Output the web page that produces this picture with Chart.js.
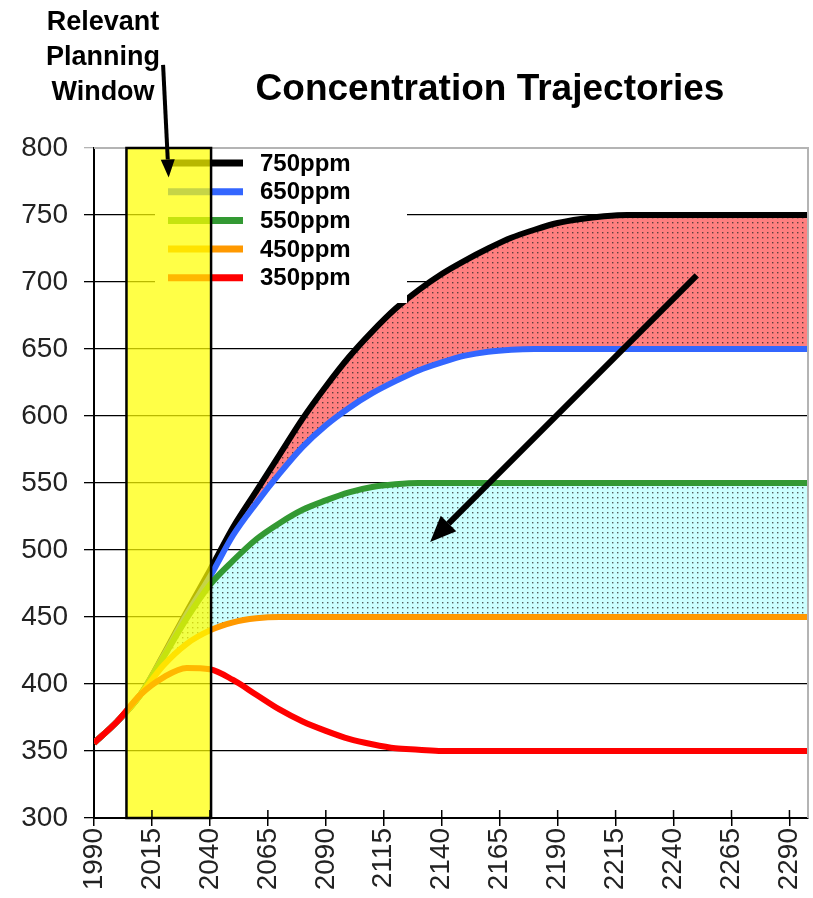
<!DOCTYPE html>
<html>
<head>
<meta charset="utf-8">
<script src="https://cdn.jsdelivr.net/npm/chart.js@4.4.0/dist/chart.umd.min.js"></script>
<style>
    html, body { margin: 0; padding: 0; background: #fff; }
</style>
</head>
<body>
<canvas id="myChart" width="813" height="898"></canvas>
<script>
// values
const years  = [1990, 2000, 2010, 2020, 2030, 2040, 2050, 2060, 2070, 2080, 2090, 2100, 2110, 2120, 2130, 2140, 2150, 2160, 2170, 2180, 2190, 2200, 2210, 2220, 2230, 2240, 2250, 2275, 2298];
const ppm750 = [356, 372, 392, 422, 454, 485, 517, 544, 571, 598, 622, 644, 663, 680, 694, 706, 716, 725, 733, 739, 744, 747, 749, 750, 750, 750, 750, 750, 750];
const ppm650 = [356, 372, 392, 421, 452, 480, 511, 535, 557, 577, 593, 606, 617, 626, 634, 640, 645, 648, 649.5, 650, 650, 650, 650, 650, 650, 650, 650, 650, 650];
const ppm550 = [356, 372, 392, 420, 449, 474, 492, 508, 520, 530, 537, 543, 547, 549, 550, 550, 550, 550, 550, 550, 550, 550, 550, 550, 550, 550, 550, 550, 550];
const ppm450 = [356, 372, 392, 414, 430, 440, 446, 449, 450, 450, 450, 450, 450, 450, 450, 450, 450, 450, 450, 450, 450, 450, 450, 450, 450, 450, 450, 450, 450];
const ppm350 = [356, 372, 392, 405, 412, 411, 403, 392, 381, 372, 365, 359, 355, 352, 351, 350, 350, 350, 350, 350, 350, 350, 350, 350, 350, 350, 350, 350, 350];

const seriesNames = ['750ppm', '650ppm', '550ppm', '450ppm', '350ppm'];
const xTicks = [1990, 2015, 2040, 2065, 2090, 2115, 2140, 2165, 2190, 2215, 2240, 2265, 2290];

// annotations, in data units
const planningWindow = [2004, 2040.5];
const bigArrow = [[2250, 705], [2135, 506]];
const windowArrow = [[2019.8, 862], [2022.2, 778]];

function pts(vals) {
    return vals.map((v, i) => ({x: years[i], y: v}));
}

function dots(base) {
    const c = document.createElement('canvas');
    c.width = 5; c.height = 5;
    const g = c.getContext('2d');
    g.fillStyle = base;
    g.fillRect(0, 0, 5, 5);
    g.fillStyle = 'rgba(40,40,40,0.75)';
    g.fillRect(2, 2, 1.4, 1.4);
    return g.createPattern(c, 'repeat');
}

function arrow(ctx, x1, y1, x2, y2, lw, hl, hw) {
    const ang = Math.atan2(y2 - y1, x2 - x1);
    const bx = x2 - Math.cos(ang) * hl, by = y2 - Math.sin(ang) * hl;
    ctx.save();
    ctx.strokeStyle = '#000';
    ctx.fillStyle = '#000';
    ctx.lineWidth = lw;
    ctx.beginPath();
    ctx.moveTo(x1, y1);
    ctx.lineTo(bx, by);
    ctx.stroke();
    ctx.beginPath();
    ctx.moveTo(x2, y2);
    ctx.lineTo(bx + Math.sin(ang) * hw / 2, by - Math.cos(ang) * hw / 2);
    ctx.lineTo(bx - Math.sin(ang) * hw / 2, by + Math.cos(ang) * hw / 2);
    ctx.closePath();
    ctx.fill();
    ctx.restore();
}

const extras = {
    id: 'extras',
    afterDatasetsDraw(chart) {
        const {ctx, chartArea: a, scales: {x, y}} = chart;
        ctx.save();

        // grey frame on top/right
        ctx.strokeStyle = '#b4b4b4';
        ctx.lineWidth = 2;
        ctx.beginPath();
        ctx.moveTo(a.left, a.top);
        ctx.lineTo(a.right, a.top);
        ctx.lineTo(a.right, a.bottom);
        ctx.stroke();

        // legend
        ctx.fillStyle = '#fff';
        ctx.fillRect(a.left + 61, a.top + 1, 252, 154);
        chart.data.datasets.forEach((ds, i) => {
            const ly = a.top + 15 + i * 28.7;
            ctx.strokeStyle = ds.borderColor;
            ctx.lineWidth = 7;
            ctx.beginPath();
            ctx.moveTo(a.left + 74, ly);
            ctx.lineTo(a.left + 149, ly);
            ctx.stroke();
            ctx.fillStyle = '#000';
            ctx.font = 'bold 24px Arial, "Liberation Sans", sans-serif';
            ctx.textBaseline = 'middle';
            ctx.textAlign = 'left';
            ctx.fillText(ds.label, a.left + 166, ly + 1);
        });

        // planning window band
        const bx1 = x.getPixelForValue(planningWindow[0]);
        const bx2 = x.getPixelForValue(planningWindow[1]);
        ctx.fillStyle = 'rgba(255,255,0,0.72)';
        ctx.fillRect(bx1, a.top, bx2 - bx1, a.bottom - a.top);
        ctx.strokeStyle = '#000';
        ctx.lineWidth = 2.5;
        ctx.strokeRect(bx1, a.top, bx2 - bx1, a.bottom - a.top);

        // inner half of the x tick marks
        ctx.strokeStyle = '#000';
        ctx.lineWidth = 1.5;
        x.ticks.forEach(t => {
            const px = x.getPixelForValue(t.value);
            ctx.beginPath();
            ctx.moveTo(px, a.bottom);
            ctx.lineTo(px, a.bottom - 8);
            ctx.stroke();
        });

        // arrows
        arrow(ctx, x.getPixelForValue(bigArrow[0][0]), y.getPixelForValue(bigArrow[0][1]),
            x.getPixelForValue(bigArrow[1][0]), y.getPixelForValue(bigArrow[1][1]), 6, 26, 22);
        arrow(ctx, x.getPixelForValue(windowArrow[0][0]), y.getPixelForValue(windowArrow[0][1]),
            x.getPixelForValue(windowArrow[1][0]), y.getPixelForValue(windowArrow[1][1]), 4, 18, 14);

        ctx.restore();
    },
    afterDraw(chart) {
        const ctx = chart.ctx;
        ctx.save();
        ctx.fillStyle = '#000';
        ctx.textAlign = 'center';
        ctx.textBaseline = 'alphabetic';
        ctx.font = 'bold 37px Arial, "Liberation Sans", sans-serif';
        ctx.fillText('Concentration Trajectories', 490, 100);
        ctx.font = 'bold 27px Arial, "Liberation Sans", sans-serif';
        ctx.fillText('Relevant', 103, 30);
        ctx.fillText('Planning', 103, 65);
        ctx.fillText('Window', 103, 100);
        ctx.restore();
    }
};

const ctx = document.getElementById('myChart').getContext('2d');
const lineColors = ['#000000', '#3366ff', '#339933', '#ff9900', '#ff0000'];
const allVals = [ppm750, ppm650, ppm550, ppm450, ppm350];

const myChart = new Chart(ctx, {
    type: 'line',
    data: {
        datasets: allVals.map((vals, i) => ({
            label: seriesNames[i],
            data: pts(vals),
            order: 4 - i,   // red ends up on top, as in the original
            borderColor: lineColors[i],
            borderWidth: 6,
            pointRadius: 0,
            cubicInterpolationMode: 'monotone',
            fill: (i === 0 || i === 2) ? '+1' : false,
            backgroundColor: i === 0 ? dots('#ff8080') : (i === 2 ? dots('#ccffff') : lineColors[i])
        }))
    },
    options: {
        responsive: false,
        animation: false,
        layout: {
            padding: {top: 148, right: 5, left: 0, bottom: 0}
        },
        plugins: {
            legend: {display: false},
            tooltip: {enabled: false},
            filler: {drawTime: 'beforeDatasetsDraw'}
        },
        scales: {
            x: {
                type: 'linear',
                min: 1990,
                max: 2298,
                afterBuildTicks: axis => { axis.ticks = xTicks.map(v => ({value: v})); },
                afterFit: axis => {
                    axis.height = 80;
                    axis.paddingLeft = 0;
                    axis.paddingRight = 0;
                },
                grid: {
                    drawOnChartArea: false,
                    tickLength: 8,
                    color: '#000',
                    lineWidth: 1.5
                },
                border: {color: '#000', width: 2},
                ticks: {
                    autoSkip: false,
                    minRotation: 90,
                    maxRotation: 90,
                    padding: 2,
                    color: '#222',
                    font: {family: 'Arial, "Liberation Sans", sans-serif', size: 28},
                    callback: v => String(v)
                }
            },
            y: {
                min: 300,
                max: 800,
                afterFit: axis => { axis.width = 94; },
                grid: {
                    tickLength: 10,
                    color: c => c.tick && c.tick.value === 800 ? '#b4b4b4' : '#000',
                    lineWidth: 1.3
                },
                border: {color: '#000', width: 2},
                ticks: {
                    stepSize: 50,
                    padding: 16,
                    color: '#222',
                    font: {family: 'Arial, "Liberation Sans", sans-serif', size: 28}
                }
            }
        }
    },
    plugins: [extras]
});
</script>
</body>
</html>
